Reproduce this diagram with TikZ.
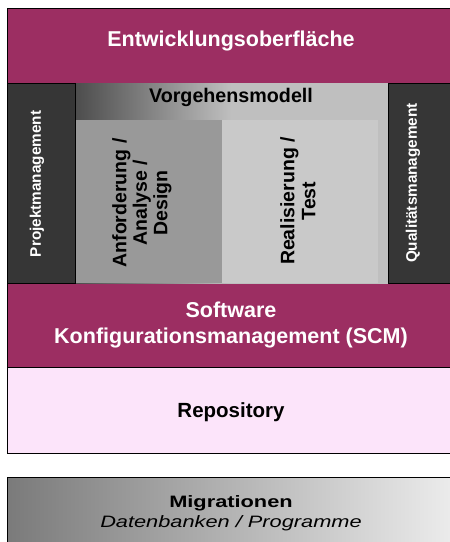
\documentclass[tikz,border=0pt]{standalone}
\usepackage{fontspec}
\setmainfont{Liberation Sans}
\definecolor{scmred}{RGB}{156,46,98}
\definecolor{sidegray}{RGB}{54,54,54}
\definecolor{repopink}{RGB}{252,228,250}
\definecolor{reqgray}{RGB}{153,153,153}
\definecolor{implgray}{RGB}{201,201,201}
\newcommand{\fs}[2]{\fontsize{#1}{#2}\selectfont}
\tikzstyle{layer}=[draw=black,line width=1.2pt,inner sep=0pt,anchor=north west]
\tikzstyle{plain}=[inner sep=0pt,anchor=north west]
\tikzstyle{label}=[inner sep=0pt,align=center,font=\bfseries]

\begin{document}
\begin{tikzpicture}[x=1pt,y=-1pt]

    \useasboundingbox (0,0) rectangle (450,542);
    \clip (0,0) rectangle (450,542);

    % Schichten
    \foreach \x/\y/\w/\h/\name/\col in {7/8/470/75/ide/scmred, 7/283/470/84/scm/scmred, 7/367/470/86/repo/repopink}
        \node[layer, fill=\col, minimum width=\w pt, minimum height=\h pt] (\name) at (\x,\y) {};

    % Vorgehensmodell
    \node[plain, left color=black!70, right color=black!25, middle color=black!25,
          minimum width=313pt, minimum height=200pt] (vm) at (75,83) {};
    \node[plain, fill=reqgray, minimum width=147pt, minimum height=163pt] (req) at (75,120) {};
    \node[plain, fill=implgray, minimum width=156pt, minimum height=163pt] (impl) at (222,120) {};

    % Seitenspalten
    \foreach \x/\w/\name in {7/68/pm, 388/90/qm}
        \node[layer, fill=sidegray, minimum width=\w pt, minimum height=200pt] (\name) at (\x,83) {};

    % Migrationen
    \node[layer, left color=black!52, right color=black!5,
          minimum width=470pt, minimum height=80pt] (mig) at (7,477) {};

    % Beschriftungen
    \node[label, white, font=\bfseries\fs{21.5}{26}] (ideText) at (231,41) {Entwicklungsoberfläche};
    \node[label, font=\bfseries\fs{19.7}{23}] (vmText) at (231,97) {Vorgehensmodell};
    \node[label, white, rotate=90, font=\bfseries\fs{15.3}{18}] (pmText) at (37,184) {Projektmanagement};
    \node[label, white, rotate=90, font=\bfseries\fs{15.3}{18}] (qmText) at (413,183) {Qualitätsmanagement};
    \node[label, rotate=90, font=\bfseries\fs{19.5}{20.5}] (reqText) at (142,203) {Anforderung /\\Analyse /\\Design};
    \node[label, rotate=90, font=\bfseries\fs{19.5}{21}] (implText) at (298,201) {Realisierung /\\Test};
    \node[label, white, font=\bfseries\fs{21.5}{26}] (scmText) at (231,325) {Software\\Konfigurationsmanagement (SCM)};
    \node[label, font=\bfseries\fs{20.5}{24}] (repoText) at (231,412) {Repository};
    \node[label, xscale=1.32, font=\fs{16.5}{20}] (migText) at (231,513) {\textbf{Migrationen}\\\textit{Datenbanken / Programme}};

\end{tikzpicture}
\end{document}
